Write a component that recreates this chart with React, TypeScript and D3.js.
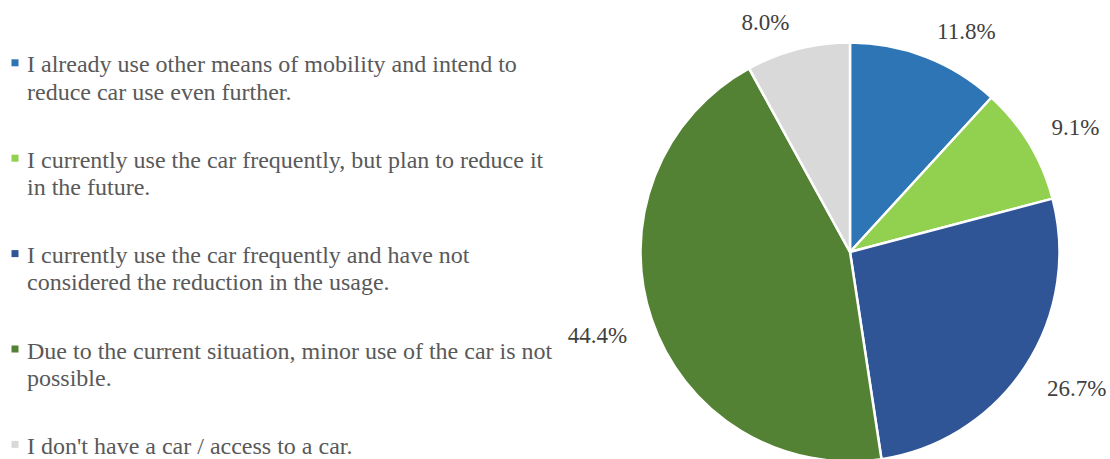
import React from "react";
import * as d3 from "d3";

const categories: string[][] = [
  ["I already use other means of mobility and intend to", "reduce car use even further."],
  ["I currently use the car frequently, but plan to reduce it", "in the future."],
  ["I currently use the car frequently and have not", "considered the reduction in the usage."],
  ["Due to the current situation, minor use of the car is not", "possible."],
  ["I don't have a car / access to a car."],
];
const values: number[] = [11.8, 9.1, 26.7, 44.4, 8.0];
const colors: string[] = ["#2E75B6", "#92D050", "#2F5597", "#548235", "#D9D9D9"];

const W = 1110;
const H = 459;
const FONT = '"Liberation Serif", "Times New Roman", serif';

export default function App() {
  const cx = 850;
  const cy = 252;
  const r = 209.5;
  const pie = d3.pie<number>().sort(null).value((d) => d);
  const arcs = pie(values);
  const arc = d3.arc<d3.PieArcDatum<number>>().innerRadius(0).outerRadius(r);
  const labelR = 232;
  const labelFont = 23;

  const legendX = 27;
  const legendY0 = 72.3;
  const legendStep = 95.4;
  const lineH = 27.3;

  return (
    <svg width={W} height={H} style={{ position: "absolute", left: 0, top: 0, display: "block" }}>
      <rect width={W} height={H} fill="#ffffff" />
      <g transform={`translate(${cx},${cy})`}>
        {arcs.map((a, i) => (
          <path key={i} d={arc(a) || ""} fill={colors[i]} stroke="#ffffff" strokeWidth={2.5} strokeLinejoin="round" />
        ))}
        {arcs.map((a, i) => {
          const mid = (a.startAngle + a.endAngle) / 2;
          const ax = labelR * Math.sin(mid);
          const ay = -labelR * Math.cos(mid);
          const right = Math.sin(mid) >= 0;
          const top = Math.cos(mid) >= 0;
          return (
            <text
              key={i}
              x={right ? ax + 3 : ax - 3}
              y={top ? ay + 3 : ay + 17}
              textAnchor={right ? "start" : "end"}
              style={{ fontFamily: FONT, fontSize: labelFont }}
              fill="#404040"
            >
              {`${values[i].toFixed(1)}%`}
            </text>
          );
        })}
      </g>
      {categories.map((lines, i) => {
        const by = legendY0 + i * legendStep;
        return (
          <g key={i}>
            <rect x={11.5} y={by - 13} width={7} height={7} fill={colors[i]} />
            {lines.map((t, j) => (
              <text key={j} x={legendX} y={by + j * lineH} style={{ fontFamily: FONT, fontSize: 24 }} fill="#595959">
                {t}
              </text>
            ))}
          </g>
        );
      })}
    </svg>
  );
}
